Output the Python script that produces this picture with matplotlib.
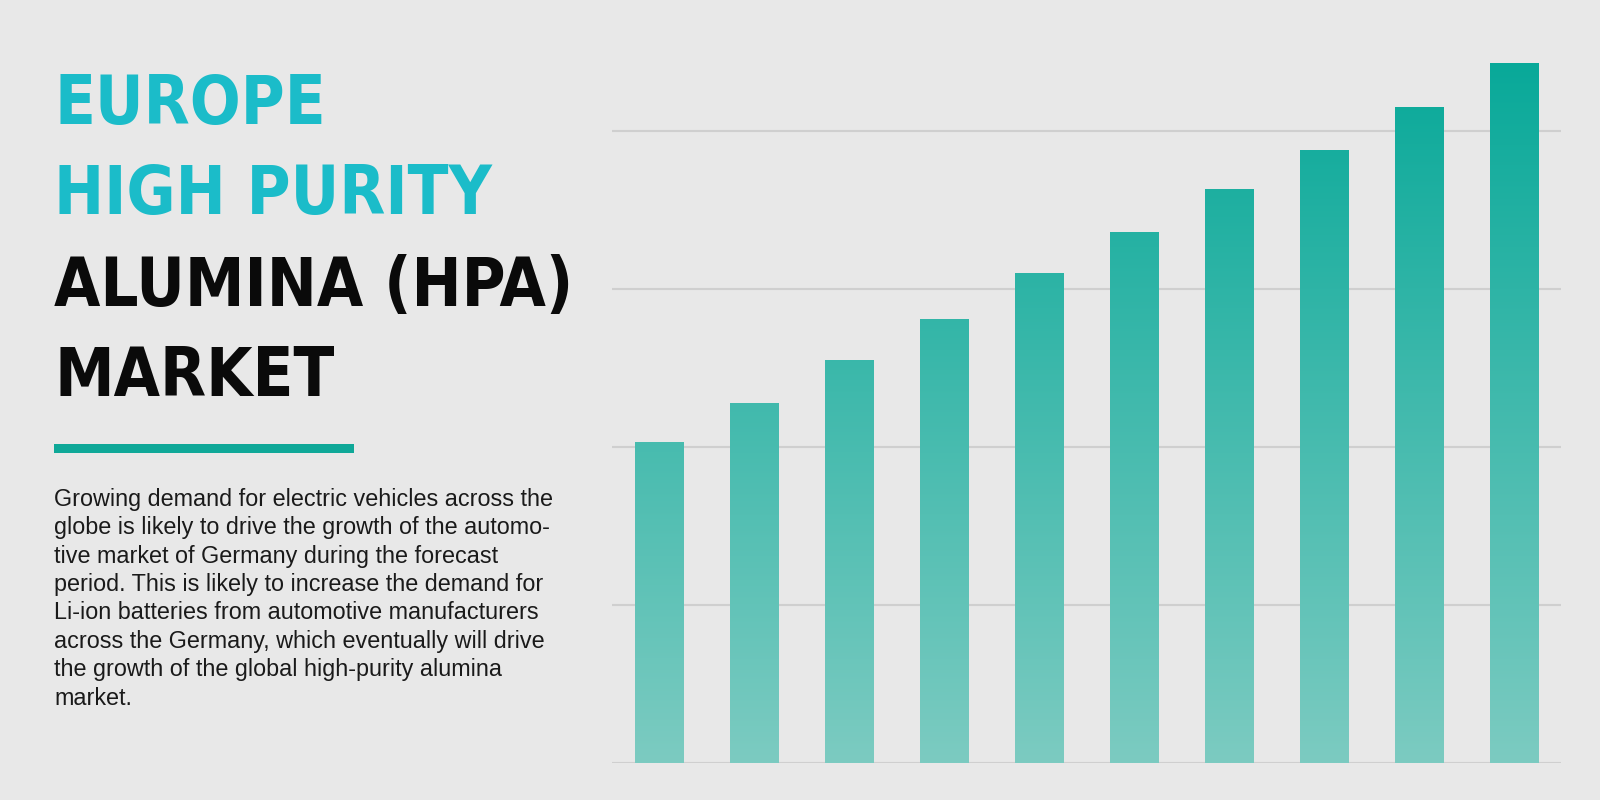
import matplotlib
matplotlib.use("Agg")
import matplotlib.pyplot as plt
import numpy as np
from matplotlib.colors import LinearSegmentedColormap
from matplotlib.patches import Rectangle

years = list(range(10))
values = [2.03, 2.28, 2.55, 2.81, 3.10, 3.36, 3.63, 3.88, 4.15, 4.43]
title_cyan = ["EUROPE", "HIGH PURITY"]
title_black = ["ALUMINA (HPA)", "MARKET"]
paragraph = ("Growing demand for electric vehicles across the\n"
             "globe is likely to drive the growth of the automo-\n"
             "tive market of Germany during the forecast\n"
             "period. This is likely to increase the demand for\n"
             "Li-ion batteries from automotive manufacturers\n"
             "across the Germany, which eventually will drive\n"
             "the growth of the global high-purity alumina\n"
             "market.")

bg = "#e8e8e8"
fig = plt.figure(figsize=(16, 8), dpi=100, facecolor=bg)
W, H = 1568, 784

ax = fig.add_axes([600/W, 1-748/H, (1530-600)/W, (748-40)/H], facecolor=bg)
ymax = (748-40)/155
for g in [0, 1, 2, 3, 4]:
    ax.axhline(g, color="#cfcfcf", lw=1.5, zorder=1)
for s in ax.spines.values():
    s.set_visible(False)
ax.set_xticks([]); ax.set_yticks([])

cmap = LinearSegmentedColormap.from_list("g", ["#7ccbc1", "#05a898"])
grad = np.linspace(0, 1, 256).reshape(-1, 1)
bw = 0.515
for x, v in zip(years, values):
    r = Rectangle((x - bw/2, 0), bw, v, facecolor="none", edgecolor="none")
    ax.add_patch(r)
    im = ax.imshow(grad, extent=(x - bw/2, x + bw/2, 0, ymax), origin="lower",
                   cmap=cmap, aspect="auto", zorder=2)
    im.set_clip_path(r)
ax.set_xlim(-0.494, 9.494); ax.set_ylim(0, ymax)

tys = [103, 191, 281, 369]
lines = title_cyan + title_black
for i, t in enumerate(lines):
    fig.text(53/W, 1-tys[i]/H, t, fontsize=48, fontweight="bold", family="DejaVu Sans",
             fontstretch="condensed",
             color="#1bbcc9" if i < 2 else "#0a0a0a", va="center", ha="left")

fig.add_artist(Rectangle((53/W, 1-444/H), (347-53)/W, 9/H, transform=fig.transFigure,
                         facecolor="#0fa898", edgecolor="none"))
fig.text(53/W, 1-478/H, paragraph, fontsize=16.8, family=["Liberation Sans", "DejaVu Sans"],
         color="#1a1a1a", va="top", ha="left", linespacing=1.3)

fig.savefig("out.png", dpi=100, facecolor=bg)
